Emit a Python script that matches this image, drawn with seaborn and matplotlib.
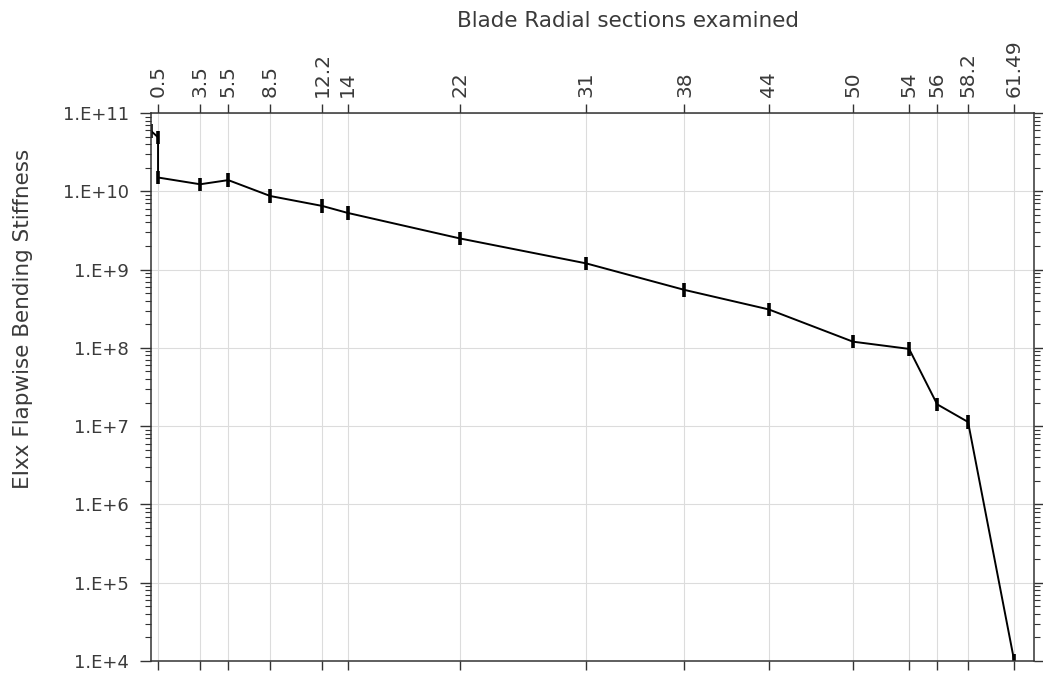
import matplotlib
matplotlib.use("Agg")
import matplotlib.pyplot as plt
import matplotlib.ticker as mticker
import numpy as np
import pandas as pd
import seaborn as sns

# Radial stations along the blade (m) and flapwise bending stiffness EIxx
station = [0.0, 0.5, 0.5, 3.5, 5.5, 8.5, 12.2, 14.0, 22.0, 31.0, 38.0,
           44.0, 50.0, 54.0, 56.0, 58.2, 61.49]
stiffness = [5.9e10, 4.9e10, 1.5e10, 1.23e10, 1.39e10, 8.7e9, 6.5e9, 5.3e9,
             2.5e9, 1.2e9, 5.5e8, 3.1e8, 1.2e8, 9.7e7, 1.9e7, 1.13e7, 1.0e4]
# multiplicative spread shown as the vertical bar at each station
spread = [1.22] * len(station)

section_ticks = [0.5, 3.5, 5.5, 8.5, 12.2, 14, 22, 31, 38, 44, 50, 54, 56,
                 58.2, 61.49]
section_labels = ["0.5", "3.5", "5.5", "8.5", "12.2", "14", "22", "31", "38",
                  "44", "50", "54", "56", "58.2", "61.49"]

df = pd.DataFrame({"station": station, "EI": stiffness, "f": spread})

sns.set_theme(style="ticks")
plt.rcParams["font.family"] = ["DejaVu Sans"]
text_col = "#3a3a3a"

fig = plt.figure(figsize=(10.43, 6.78), dpi=100)
ax = fig.add_axes([0.1448, 0.0251, 0.9914 - 0.1448, 0.8333 - 0.0251])

sns.lineplot(data=df, x="station", y="EI", estimator=None, sort=False,
             color="black", linewidth=1.4, ax=ax)
lower = df["EI"] - df["EI"] / df["f"]
upper = df["EI"] * df["f"] - df["EI"]
ax.errorbar(df["station"], df["EI"], yerr=[lower, upper], fmt="none",
            ecolor="black", elinewidth=2.6, capsize=0)

ax.set_yscale("log")
ax.set_xlim(0, 62.9)
ax.set_ylim(1e4, 1e11)

ax.set_xticks(section_ticks)
ax.set_xticklabels(section_labels, rotation=90)
ax.xaxis.set_ticks_position("both")
ax.xaxis.set_label_position("top")
ax.tick_params(axis="x", which="both", top=True, labeltop=True,
               bottom=True, labelbottom=False, direction="out",
               length=6.5, width=1, pad=5, colors="#333333", labelsize=14.5,
               labelcolor=text_col)
ax.set_xlabel("Blade Radial sections examined", fontsize=15.5,
              color=text_col)
ax.xaxis.set_label_coords(0.540, 1.157)

ax.yaxis.set_major_locator(mticker.LogLocator(base=10, numticks=20))
ax.yaxis.set_minor_locator(mticker.LogLocator(base=10, subs=np.arange(2, 10),
                                              numticks=20))
ax.yaxis.set_minor_formatter(mticker.NullFormatter())
ax.yaxis.set_major_formatter(
    mticker.FuncFormatter(lambda v, p: "1.E+%d" % round(np.log10(v))))
ax.yaxis.set_ticks_position("both")
ax.tick_params(axis="y", which="major", left=True, right=True,
               labelleft=True, labelright=False, direction="out",
               length=8, width=1, pad=8, colors="#333333", labelsize=13,
               labelcolor=text_col)
ax.tick_params(axis="y", which="minor", left=True, right=True,
               direction="out", length=4, width=0.8, colors="#333333")
ax.set_ylabel("EIxx Flapwise Bending Stiffness", fontsize=15.5,
              color=text_col)
ax.yaxis.set_label_coords(-0.134, 0.624)

ax.grid(True, which="major", color="#dcdcdc", linewidth=0.8)
ax.set_axisbelow(True)
for s in ax.spines.values():
    s.set_color("#333333")
    s.set_linewidth(1.1)

fig.savefig("out.png", dpi=100)
